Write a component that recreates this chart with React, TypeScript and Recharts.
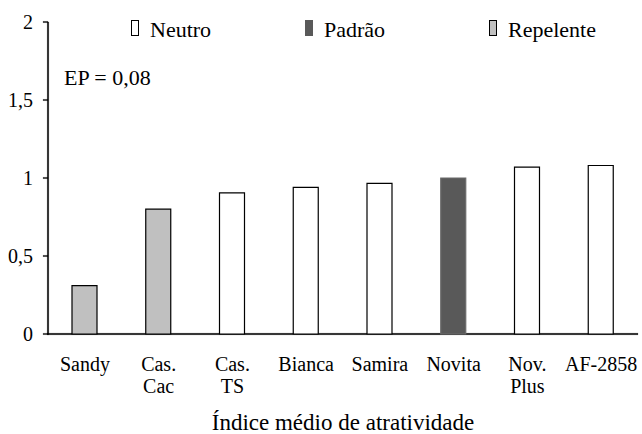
import React from 'react';
import * as R from 'recharts';
import { BarChart, Bar, XAxis, YAxis, Cell, Label } from 'recharts';

const categories = ['Sandy', 'Cas.\nCac', 'Cas.\nTS', 'Bianca', 'Samira', 'Novita', 'Nov.\nPlus', 'AF-2858'];
const values = [0.31, 0.8, 0.905, 0.94, 0.965, 1.0, 1.07, 1.08];
const groups = ['Repelente', 'Repelente', 'Neutro', 'Neutro', 'Neutro', 'Padrão', 'Neutro', 'Neutro'];
const yTicks = [0, 0.5, 1, 1.5, 2];
const edgeTicks = [0, 1, 2, 3, 4, 5, 6, 7, 8];
const legendItems = ['Neutro', 'Padrão', 'Repelente'];
const annotation = 'EP = 0,08';
const axisTitle = 'Índice médio de atratividade';

const FONT = '"Liberation Serif", "Times New Roman", serif';

const groupStyle: Record<string, { fill: string; stroke: string }> = {
  Neutro: { fill: '#ffffff', stroke: '#000000' },
  Padrão: { fill: '#595959', stroke: '#6a6a6a' },
  Repelente: { fill: '#c0c0c0', stroke: '#000000' },
};

const data = categories.map((c, i) => ({ name: c, value: values[i], group: groups[i] }));

const boxPath = (x: number, y: number, w: number, h: number) => `M${x},${y}h${w}v${h}h${-w}Z`;

const XTick = (props: any) => {
  const { x, y, payload } = props;
  const lines = String(payload.value).split('\n');
  return (
    <text x={x} y={y} textAnchor="middle" fill="#000" fontSize={20} fontFamily={FONT}>
      {lines.map((l, i) => (
        <tspan key={i} x={x} dy={i === 0 ? 37 : 22}>
          {l}
        </tspan>
      ))}
    </text>
  );
};

const EdgeTick = (props: any) => {
  const { x, y } = props;
  return <path d={boxPath(x - 0.6, y, 1.2, 9)} fill="#000" stroke="#000" strokeWidth={0.2} />;
};

const YTick = (props: any) => {
  const { x, y, payload } = props;
  const label = String(payload.value).replace('.', ',');
  return (
    <g>
      <path d={boxPath(x + 10, y - 0.6, 5, 1.2)} fill="#000" stroke="#000" strokeWidth={0.2} />
      <text x={x} y={y} dy={7} textAnchor="end" fill="#000" fontSize={20} fontFamily={FONT}>
        {label}
      </text>
    </g>
  );
};

const AxisFrame = () => {
  const anyR: any = R;
  let area: any = null;
  if (typeof anyR.usePlotArea === 'function') {
    area = anyR.usePlotArea();
  } else if (typeof anyR.useOffset === 'function') {
    const o = anyR.useOffset();
    if (o) area = { x: o.left, y: o.top, width: o.width, height: o.height };
  }
  if (!area) return null;
  const { x, y, width, height } = area;
  return (
    <g>
      <path d={boxPath(x - 0.75, y, 1.5, height + 0.75)} fill="#000" stroke="#000" strokeWidth={0.2} />
      <path d={boxPath(x - 0.75, y + height - 0.75, width + 0.75, 1.5)} fill="#000" stroke="#000" strokeWidth={0.2} />
    </g>
  );
};

const Overlay = () => (
  <div style={{ position: 'absolute', left: 0, top: 0, width: 642, height: 100, fontFamily: FONT, color: '#000', pointerEvents: 'none' }}>
    <div style={{ position: 'absolute', left: 131, top: 18.6, display: 'flex', alignItems: 'flex-start' }}>
      {legendItems.map((item, i) => (
        <div key={item} style={{ display: 'flex', alignItems: 'flex-start', width: i === 0 ? 174 : i === 1 ? 184 : 'auto' }}>
          <div
            style={{
              width: 8,
              height: 16,
              boxSizing: 'border-box',
              background: groupStyle[item].fill,
              border: `1px solid ${item === 'Padrão' ? groupStyle[item].fill : '#000'}`,
              marginTop: 1,
              marginRight: 11,
            }}
          />
          <span style={{ fontSize: 22, lineHeight: '22px', whiteSpace: 'nowrap' }}>{item}</span>
        </div>
      ))}
    </div>
    <div style={{ position: 'absolute', left: 64, top: 66.6, fontSize: 22, lineHeight: '22px', whiteSpace: 'nowrap' }}>
      {annotation}
    </div>
  </div>
);

export default function App() {
  return (
    <div style={{ position: 'absolute', left: 0, top: 0, width: 642, height: 434, background: '#fff' }}>
      <BarChart width={642} height={434} data={data} margin={{ top: 22, right: 4, left: 0, bottom: 0 }}>
        <XAxis
          xAxisId="edge"
          type="number"
          domain={[0, 8]}
          ticks={edgeTicks}
          tick={<EdgeTick />}
          tickSize={0}
          tickMargin={0}
          tickLine={false}
          axisLine={false}
          height={0}
          allowDataOverflow
        />
        <XAxis
          xAxisId="cat"
          dataKey="name"
          height={100}
          tickSize={0}
          tickMargin={0}
          tickLine={false}
          axisLine={false}
          tick={<XTick />}
          interval={0}
        >
          <Label
            value={axisTitle}
            position="insideBottom"
            offset={4}
            style={{ fontSize: 23, fontFamily: FONT, fill: '#000' }}
          />
        </XAxis>
        <YAxis
          width={48}
          domain={[0, 2]}
          ticks={yTicks}
          tickSize={0}
          tickMargin={15}
          tickLine={false}
          axisLine={false}
          tick={<YTick />}
        />
        <Bar xAxisId="cat" dataKey="value" barSize={25} isAnimationActive={false}>
          {data.map((d, i) => (
            <Cell key={i} fill={groupStyle[d.group].fill} stroke={groupStyle[d.group].stroke} strokeWidth={1.2} />
          ))}
        </Bar>
        <AxisFrame />
      </BarChart>
      <Overlay />
    </div>
  );
}
